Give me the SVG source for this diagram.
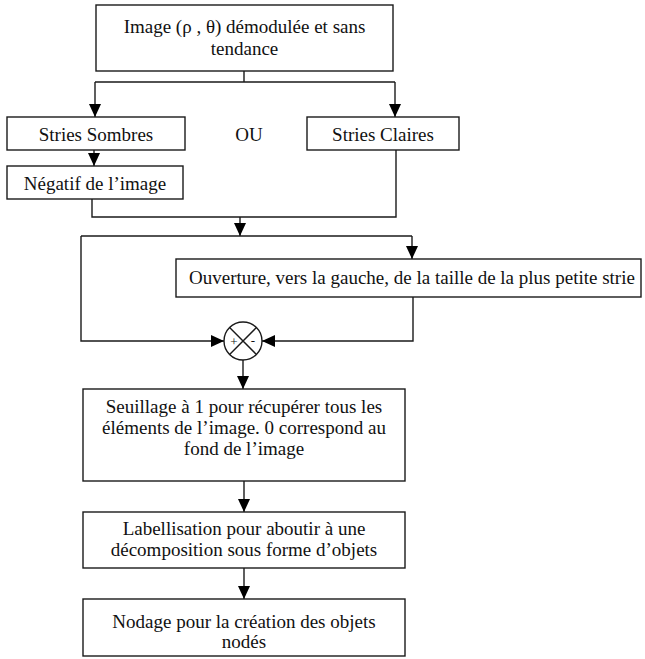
<svg xmlns="http://www.w3.org/2000/svg" width="645" height="659" viewBox="0 0 645 659">
  <style>
    .box { fill: #fff; stroke: #1a1a1a; stroke-width: 1.4; }
    .lbl { font-family: "Liberation Serif", "Times New Roman", serif; font-size: 19px; fill: #111; text-anchor: middle; }
    .sign { font-family: "Liberation Serif", "Times New Roman", serif; font-size: 13px; fill: #111; text-anchor: middle; }
    .wire { fill: none; stroke: #1a1a1a; stroke-width: 1.4; }
    .arr { marker-end: url(#head); }
  </style>
  <defs>
    <marker id="head" viewBox="0 0 13 12" refX="13" refY="6" markerWidth="13" markerHeight="12" markerUnits="userSpaceOnUse" orient="auto">
      <path d="M0,0 L13,6 L0,12 Z" fill="#000"/>
    </marker>
  </defs>

  <rect width="645" height="659" fill="#fff"/>

  <!-- connectors -->
  <g id="connectors">
    <path class="wire" d="M244,71 V82 M95,82 H395"/>
    <path class="wire arr" d="M95,82 V117"/>
    <path class="wire arr" d="M395,82 V117"/>
    <path class="wire arr" d="M94,150 V166"/>
    <path class="wire" d="M92,199 V217 H396 V150"/>
    <path class="wire arr" d="M240,217 V236"/>
    <path class="wire" d="M81,236 H412"/>
    <path class="wire arr" d="M412,236 V259"/>
    <path class="wire arr" d="M81,236 V341 H224"/>
    <path class="wire arr" d="M413,297 V341 H262"/>
    <path class="wire arr" d="M243,360 V389"/>
    <path class="wire arr" d="M244,481 V512"/>
    <path class="wire arr" d="M244,568 V599"/>
  </g>

  <g id="n-source">
    <rect class="box" x="96" y="5" width="297" height="66"/>
    <text class="lbl" x="244.5" y="33">Image (ρ , θ) démodulée et sans</text>
    <text class="lbl" x="244.5" y="55">tendance</text>
  </g>

  <g id="n-sombres">
    <rect class="box" x="7" y="117" width="178" height="33"/>
    <text class="lbl" x="96" y="141">Stries Sombres</text>
  </g>

  <g id="n-ou">
    <text class="lbl" x="249" y="141">OU</text>
  </g>

  <g id="n-claires">
    <rect class="box" x="307" y="117" width="152" height="33"/>
    <text class="lbl" x="383" y="141">Stries Claires</text>
  </g>

  <g id="n-negatif">
    <rect class="box" x="7" y="166" width="176" height="33"/>
    <text class="lbl" x="95" y="190">Négatif de l’image</text>
  </g>

  <g id="n-ouverture">
    <rect class="box" x="176" y="259" width="465" height="38"/>
    <text class="lbl" x="412" y="284">Ouverture, vers la gauche, de la taille de la plus petite strie</text>
  </g>

  <g id="n-difference">
    <circle cx="243" cy="341" r="19" fill="#fff" stroke="#1a1a1a" stroke-width="1.4"/>
    <path class="wire" d="M229.6,327.6 L256.4,354.4 M256.4,327.6 L229.6,354.4"/>
    <text class="sign" x="234" y="346">+</text>
    <text class="sign" x="253" y="345">-</text>
  </g>

  <g id="n-seuillage">
    <rect class="box" x="83" y="389" width="322" height="92"/>
    <text class="lbl" x="244" y="413">Seuillage à 1 pour récupérer tous les</text>
    <text class="lbl" x="244" y="434">éléments de l’image. 0 correspond au</text>
    <text class="lbl" x="244" y="455">fond de l’image</text>
  </g>

  <g id="n-labellisation">
    <rect class="box" x="83" y="512" width="322" height="56"/>
    <text class="lbl" x="244" y="535">Labellisation pour aboutir à une</text>
    <text class="lbl" x="244" y="556">décomposition sous forme d’objets</text>
  </g>

  <g id="n-nodage">
    <rect class="box" x="83" y="599" width="322" height="57"/>
    <text class="lbl" x="244" y="628">Nodage pour la création des objets</text>
    <text class="lbl" x="244" y="648">nodés</text>
  </g>
</svg>
